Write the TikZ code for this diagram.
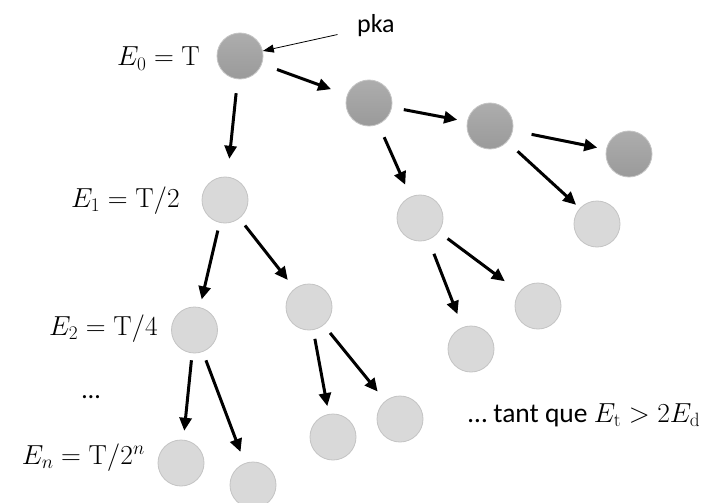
\RequirePackage{fix-cm}
\documentclass[tikz,border=0pt]{standalone}
\usepackage[no-math]{fontspec}
\setmainfont{Carlito}
\usetikzlibrary{arrows.meta}
\definecolor{lightfill}{HTML}{D9D9D9}
\definecolor{circborder}{HTML}{C4C4C4}
\definecolor{darktop}{HTML}{ADADAD}
\definecolor{darkbot}{HTML}{9A9A9A}
\newcommand{\mathsz}{\fontsize{27.5}{33}\selectfont}
\tikzset{
  lightball/.style={circle, minimum size=46pt, inner sep=0pt, fill=lightfill, draw=circborder, line width=0.8pt},
  darkball/.style={circle, minimum size=46pt, inner sep=0pt, top color=darktop, bottom color=darkbot, draw=circborder, line width=0.8pt},
  arr/.style={line width=3pt, -{Triangle[length=13pt,width=12pt]}},
  thinarr/.style={line width=0.8pt, -{Triangle[length=11pt,width=8pt]}},
  lbl/.style={inner sep=0pt, font=\fontsize{26}{31}\selectfont},
  mlbl/.style={inner sep=0pt, font=\mathsz}
}
\begin{document}
\begin{tikzpicture}[x=1pt, y=-1pt]
\useasboundingbox (0,0) rectangle (710,503);
\clip (0,0) rectangle (710,503);
\fill[white] (0,0) rectangle (710,503);
% dark (pka chain)
\node[darkball] (d0) at (240,56) {};
\node[darkball] (d1) at (369,103) {};
\node[darkball] (d2) at (490,126) {};
\node[darkball] (d3) at (629,154) {};
% light
\node[lightball] (e1) at (225,200) {};
\node[lightball] (a1) at (420,218) {};
\node[lightball] (b1) at (597,224) {};
\node[lightball] (c2) at (309,307) {};
\node[lightball] (a3) at (538,306) {};
\node[lightball] (e2) at (194.5,330) {};
\node[lightball] (a2) at (471,349) {};
\node[lightball] (c3) at (333,437) {};
\node[lightball] (c4) at (400,419) {};
\node[lightball] (en) at (181,463) {};
\node[lightball] (f1) at (253,485) {};
% labels
\node[lbl, anchor=base west] (pka) at (357,33) {pka};
\node[mlbl, anchor=base east] (t0) at (200,66) {$E_0=\mathrm{T}$};
\node[mlbl, anchor=base east] (t1) at (180,207) {$E_1=\mathrm{T}/2$};
\node[mlbl, anchor=base east] (t2) at (158,335) {$E_2=\mathrm{T}/4$};
\node[lbl, anchor=base] (dots) at (91,398) {…};
\node[mlbl, anchor=base east] (tn) at (145,464) {$E_n=\mathrm{T}/2^n$};
\node[lbl, font=\fontsize{27.5}{33}\selectfont, anchor=base west] (tq) at (468,422) {… tant que {\mathsz$E_{\mathrm{t}}>2E_{\mathrm{d}}$}};
% arrows
\draw[thinarr, shorten <=20pt] (pka) -- (d0);
\draw[arr, shorten <=16pt, shorten >=17pt] (d0) -- (d1);
\draw[arr, shorten <=14pt, shorten >=18pt] (d0) -- (e1);
\draw[arr, shorten <=12pt, shorten >=10pt] (d1) -- (d2);
\draw[arr, shorten <=14pt, shorten >=13pt] (d1) -- (a1);
\draw[arr, shorten <=19pt, shorten >=9pt] (d2) -- (d3);
\draw[arr, shorten <=14pt, shorten >=5pt] (d2) -- (b1);
\draw[arr, shorten <=15pt, shorten >=14pt] (a1) -- (a2);
\draw[arr, shorten <=11pt, shorten >=18pt] (a1) -- (a3);
\draw[arr, shorten <=8pt, shorten >=8pt] (e1) -- (e2);
\draw[arr, shorten <=9pt, shorten >=11pt] (e1) -- (c2);
\draw[arr, shorten <=9pt, shorten >=8pt] (c2) -- (c3);
\draw[arr, shorten <=10pt, shorten >=12pt] (c2) -- (c4);
\draw[arr, shorten <=7pt, shorten >=9pt] (e2) -- (en);
\draw[arr, shorten <=9pt, shorten >=12pt] (e2) -- (f1);
\end{tikzpicture}
\end{document}
